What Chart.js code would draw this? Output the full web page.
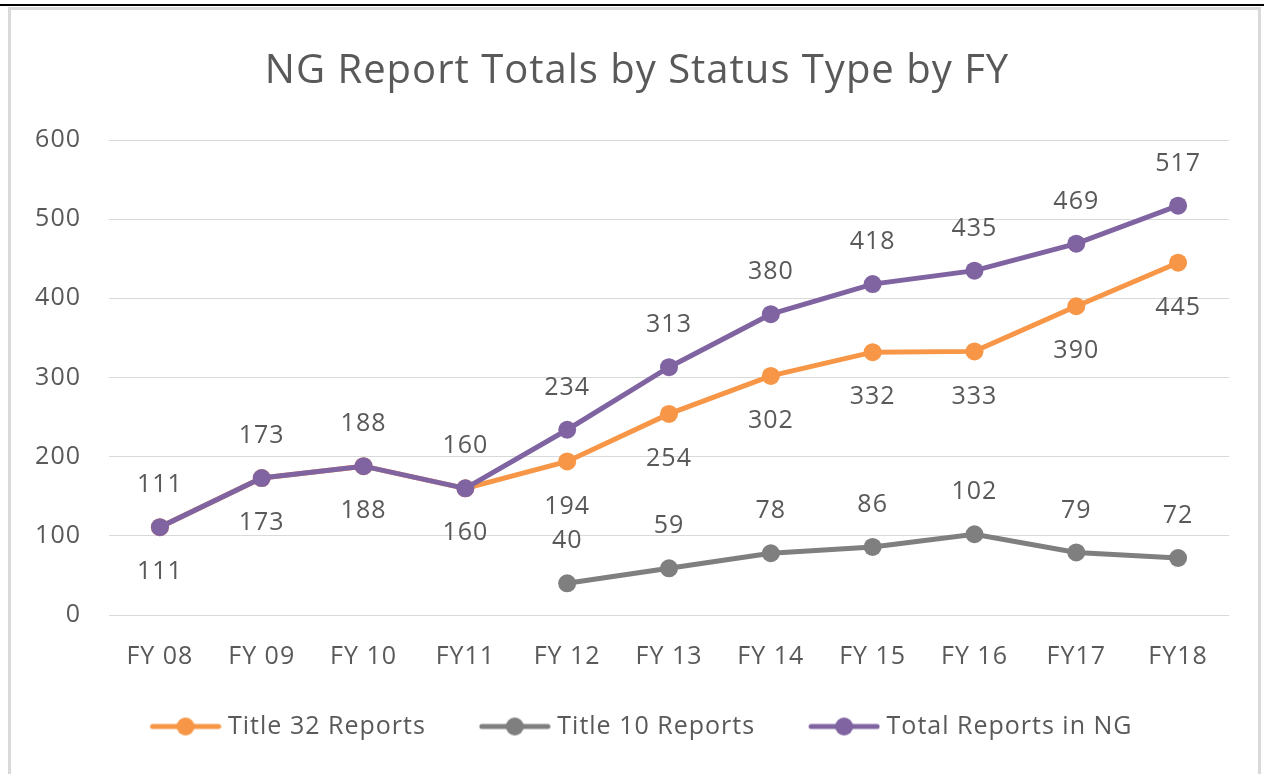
<!DOCTYPE html>
<html>
<head>
<meta charset="utf-8">
<script src="https://cdn.jsdelivr.net/npm/chart.js@4"></script>
<style>
  html, body { margin: 0; padding: 0; background: #fff; }
  body { width: 1264px; height: 774px; position: relative; overflow: hidden; }
  #topline { position: absolute; left: 0; top: 4px; width: 1264px; height: 2px; background: #000; }
  #frame { position: absolute; left: 8px; top: 7px; width: 1253px; height: 780px;
           border: 3px solid #d9d9d9; box-sizing: border-box; background: #fff; }
  .chart-container { position: absolute; left: 11px; top: 10px; width: 1244px; height: 764px; }
</style>
</head>
<body>
<div id="topline"></div>
<div id="frame"></div>
<div class="chart-container"><canvas id="chart_ng"></canvas></div>
<script>
// Chart data
const categories = ['FY 08', 'FY 09', 'FY 10', 'FY11', 'FY 12', 'FY 13', 'FY 14', 'FY 15', 'FY 16', 'FY17', 'FY18'];
const title32 = [111, 173, 188, 160, 194, 254, 302, 332, 333, 390, 445];
const title10 = [null, null, null, null, 40, 59, 78, 86, 102, 79, 72];
const totalNG = [111, 173, 188, 160, 234, 313, 380, 418, 435, 469, 517];
const yTicks = [0, 100, 200, 300, 400, 500, 600];

const textColor = '#595959';
const fontFamily = '"Open Sans", sans-serif';

// Legend marker: thick line with a dot; blank space on the left acts as item spacing
const markerBox = 92;      // legend box width given to chart.js
const markerLead = 26;     // blank space before the visible line
const markerLine = 72;     // visible line length
function legendMarker(color) {
    const half = markerLead + markerLine - markerBox / 2;
    const c = document.createElement('canvas');
    c.width = Math.round(half * 2);
    c.height = 22;
    const off = c.width / 2 - markerBox / 2;   // image x of box start
    const x0 = off + markerLead, x1 = x0 + markerLine;
    const g = c.getContext('2d');
    g.strokeStyle = color;
    g.lineWidth = 5;
    g.lineCap = 'round';
    g.beginPath();
    g.moveTo(x0 + 3, 11);
    g.lineTo(x1 - 3, 11);
    g.stroke();
    g.fillStyle = color;
    g.beginPath();
    g.arc((x0 + x1) / 2, 11, 9, 0, Math.PI * 2);
    g.fill();
    return c;
}

// Slightly wider text, closer to the original font; title nudged right a bit
const tweaks = {
    id: 'tweaks',
    beforeLayout(chart) { chart.ctx.letterSpacing = '1px'; },
    afterLayout(chart) {
        if (chart.titleBlock) { chart.titleBlock.left += 9; chart.titleBlock.right += 9; }
    },
    beforeDraw(chart) { chart.ctx.letterSpacing = '1px'; }
};

// Value labels above / below each point
const valueLabels = {
    id: 'valueLabels',
    afterDatasetsDraw(chart) {
        const ctx = chart.ctx;
        ctx.save();
        ctx.font = '25px ' + fontFamily;
        ctx.fillStyle = textColor;
        ctx.textAlign = 'center';
        ctx.textBaseline = 'middle';
        chart.data.datasets.forEach((ds, i) => {
            const meta = chart.getDatasetMeta(i);
            meta.data.forEach((pt, j) => {
                const v = ds.data[j];
                if (v === null) return;
                const dy = ds.labelPos === 'below' ? 45 : -42;
                ctx.fillText(String(v), pt.x, pt.y + dy);
            });
        });
        ctx.restore();
    }
};

function makeSet(label, data, color, order, labelPos) {
    return {
        label: label,
        data: data,
        borderColor: color,
        backgroundColor: color,
        borderWidth: 5,
        pointRadius: 9,
        pointHoverRadius: 9,
        pointBorderWidth: 0,
        pointBackgroundColor: color,
        tension: 0,
        spanGaps: false,
        order: order,
        labelPos: labelPos,
        marker: legendMarker(color)
    };
}

const ctx = document.getElementById('chart_ng').getContext('2d');
const chart = new Chart(ctx, {
    type: 'line',
    data: {
        labels: categories,
        datasets: [
            makeSet('Title 32 Reports', title32, '#f79646', 2, 'below'),
            makeSet('Title 10 Reports', title10, '#7f7f7f', 1, 'above'),
            makeSet('Total Reports in NG', totalNG, '#8064a2', 0, 'above')
        ]
    },
    options: {
        responsive: true,
        maintainAspectRatio: false,
        animation: false,
        layout: { padding: { left: 16, right: 26, top: 0, bottom: 25 } },
        scales: {
            x: {
                offset: true,
                grid: { display: false },
                border: { display: false },
                afterFit: (scale) => { scale.height = 72; },
                ticks: { color: textColor, font: { family: fontFamily, size: 25 }, padding: 19 }
            },
            y: {
                min: 0,
                max: 600,
                afterBuildTicks: (scale) => { scale.ticks = yTicks.map(v => ({ value: v })); },
                afterFit: (scale) => { scale.width = 82; },
                grid: { color: '#d9d9d9', lineWidth: 1, drawTicks: false },
                border: { display: false },
                ticks: { color: textColor, font: { family: fontFamily, size: 25 }, padding: 28 }
            }
        },
        plugins: {
            title: {
                display: true,
                text: 'NG Report Totals by Status Type by FY',
                color: textColor,
                font: { family: fontFamily, size: 40, weight: 'normal' },
                padding: { top: 38, bottom: 44 }
            },
            legend: {
                position: 'bottom',
                labels: {
                    usePointStyle: true,
                    pointStyleWidth: markerBox,
                    color: textColor,
                    font: { family: fontFamily, size: 25 },
                    padding: 27,
                    generateLabels: (chart) => chart.data.datasets.map((ds, i) => ({
                        text: ds.label,
                        pointStyle: ds.marker,
                        fillStyle: ds.borderColor,
                        strokeStyle: ds.borderColor,
                        lineWidth: 0,
                        fontColor: textColor,
                        datasetIndex: i
                    }))
                }
            },
            tooltip: { enabled: false }
        }
    },
    plugins: [tweaks, valueLabels]
});
</script>
</body>
</html>
